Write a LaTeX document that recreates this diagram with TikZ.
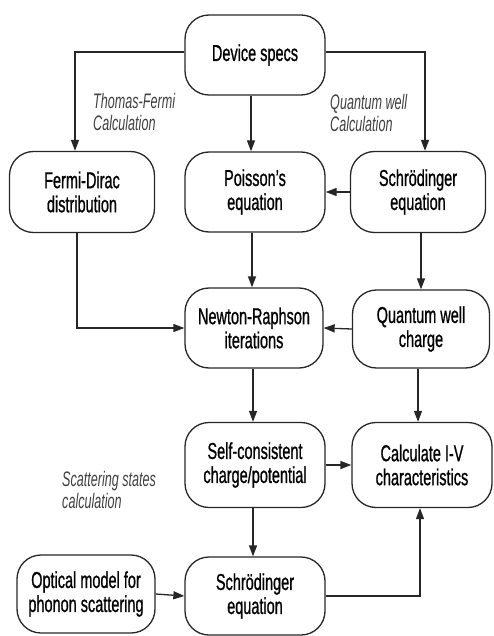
\documentclass[tikz,border=0pt]{standalone}
\usepackage{fontspec}
\setmainfont{Liberation Sans}[FakeStretch=0.63,FakeBold=0.8]
\newfontfamily\lblfont{Liberation Sans}[FakeStretch=0.6,ItalicFont={Liberation Sans Italic}]
\usetikzlibrary{arrows.meta}
\begin{document}
\begin{tikzpicture}[x=1pt,y=-1pt,
  box/.style={draw=black!85,line width=1.3pt,rounded corners=24pt,minimum width=140pt,minimum height=80pt,
    align=center,inner sep=0pt,font=\fontsize{23}{24}\selectfont},
  arr/.style={draw=black!85,line width=1.3pt,-{Triangle[length=11pt,width=8pt]}},
  lbl/.style={align=left,anchor=west,inner sep=0pt,font=\lblfont\itshape\fontsize{21}{22}\selectfont,text=black!75}]
\useasboundingbox (0,0) rectangle (493,636);
\node[box] (dev) at (255,55) {Device specs};
\node[box,minimum width=145pt,minimum height=81pt] (fd) at (82,192) {Fermi-Dirac\\distribution};
\node[box] (poi) at (255,192) {Poisson's\\equation};
\node[box,minimum width=135pt,minimum height=81pt] (sch1) at (418,192) {Schrödinger\\equation};
\node[box,minimum width=138pt] (nr) at (254,328) {Newton-Raphson\\iterations};
\node[box,minimum width=137pt,minimum height=78pt] (qwc) at (421,329) {Quantum well\\charge};
\node[box,minimum height=85pt] (sc) at (255,465) {Self-consistent\\charge/potential};
\node[box,minimum height=85pt] (iv) at (422,465) {Calculate I-V\\characteristics};
\node[box,minimum width=138pt,minimum height=78pt] (opt) at (86,594) {Optical model for\\phonon scattering};
\node[box,minimum height=78pt] (sch2) at (255,596) {Schrödinger\\equation};
\node[lbl] (tf) at (93,112) {Thomas-Fermi\\Calculation};
\node[lbl] (qw) at (330,113) {Quantum well\\Calculation};
\node[lbl] (ss) at (62,490) {Scattering states\\calculation};
\draw[arr] ([yshift=3pt]dev.west) -| ([xshift=-7pt]fd.north);
\draw[arr] ([xshift=-4pt]dev.south) -- ([xshift=-4pt]poi.north);
\draw[arr] ([yshift=3pt]dev.east) -| ([xshift=7pt]sch1.north);
\draw[arr] (sch1.west) -- (poi.east);
\draw[arr] ([xshift=-3pt]poi.south) -- ([xshift=-2pt]nr.north);
\draw[arr] ([xshift=3pt]sch1.south) -- (qwc.north);
\draw[arr] ([xshift=-5pt]fd.south) |- (nr.west);
\draw[arr] (qwc.west) -- (nr.east);
\draw[arr] ([xshift=-1pt]nr.south) -- ([xshift=-2pt]sc.north);
\draw[arr] ([xshift=-3pt]qwc.south) -- ([xshift=-4pt]iv.north);
\draw[arr] (sc.east) -- (iv.west);
\draw[arr] ([xshift=-2pt]sc.south) -- ([xshift=-2pt]sch2.north);
\draw[arr] (opt.east) -- (sch2.west);
\draw[arr] (sch2.east) -| ([xshift=-2pt]iv.south);
\end{tikzpicture}
\end{document}
